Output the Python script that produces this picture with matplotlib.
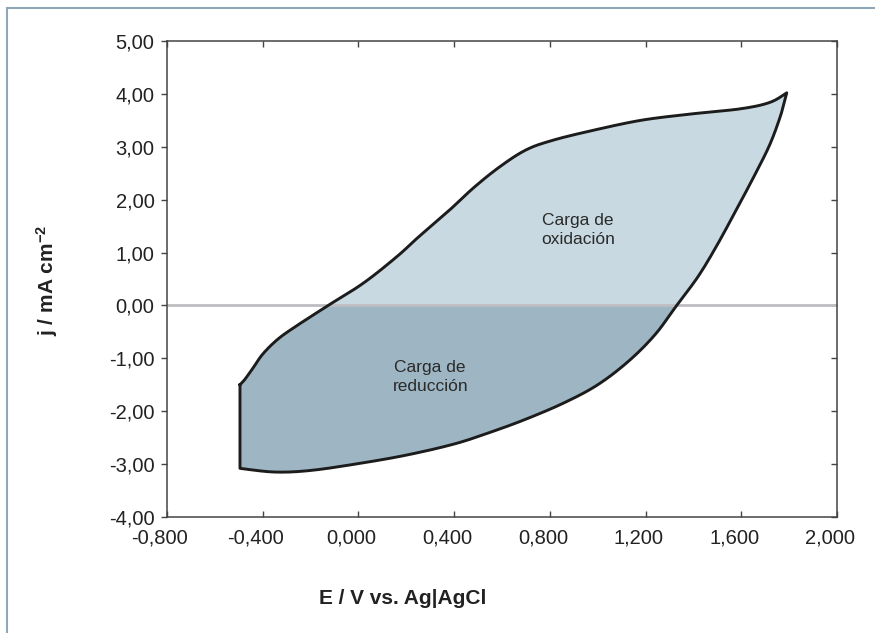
import numpy as np
import matplotlib
matplotlib.use("Agg")
import matplotlib.pyplot as plt
import matplotlib.transforms as mtransforms
from matplotlib.patches import Polygon, Rectangle
from matplotlib.lines import Line2D

plt.rcParams['font.family'] = ['Liberation Sans', 'DejaVu Sans']
plt.rcParams['mathtext.default'] = 'regular'

# forward (anodic) branch, from -0.5 V up to the vertex
fwd_E = [-0.495, -0.475, -0.44, -0.40, -0.34, -0.27, -0.13, 0.02, 0.16, 0.25,
         0.38, 0.48, 0.59, 0.70, 0.81, 0.97, 1.18, 1.39, 1.60, 1.72, 1.79]
fwd_j = [-1.50, -1.40, -1.18, -0.92, -0.65, -0.42, -0.01, 0.42, 0.92, 1.29,
         1.80, 2.22, 2.62, 2.94, 3.12, 3.30, 3.50, 3.62, 3.72, 3.84, 4.02]
# reverse (cathodic) branch, from the vertex back to -0.5 V
rev_E = [1.79, 1.765, 1.72, 1.66, 1.59, 1.50, 1.42, 1.33, 1.24, 1.13,
         1.00, 0.86, 0.70, 0.55, 0.40, 0.20, 0.00, -0.20, -0.35, -0.495]
rev_j = [4.02, 3.60, 3.05, 2.50, 1.90, 1.15, 0.55, 0.00, -0.55, -1.05,
         -1.50, -1.84, -2.15, -2.40, -2.62, -2.83, -2.99, -3.12, -3.15, -3.08]

x_ticks = [-0.8, -0.4, 0.0, 0.4, 0.8, 1.2, 1.6, 2.0]
x_ticklabels = ['-0,800', '-0,400', '0,000', '0,400', '0,800', '1,200', '1,600', '2,000']
y_ticks = [-4, -3, -2, -1, 0, 1, 2, 3, 4, 5]
y_ticklabels = ['-4,00', '-3,00', '-2,00', '-1,00', '0,00', '1,00', '2,00', '3,00', '4,00', '5,00']

light = '#c8d9e1'
dark = '#9eb6c3'
ink = '#1c1c1c'


def smooth(xs, ys, n=12):
    # catmull-rom through the read points, just to draw a smooth trace
    p = np.column_stack([xs, ys])
    p = np.vstack([p[0], p, p[-1]])
    out = []
    for i in range(1, len(p) - 2):
        p0, p1, p2, p3 = p[i - 1], p[i], p[i + 1], p[i + 2]
        for t in np.linspace(0, 1, n, endpoint=False):
            out.append(0.5 * (2 * p1 + (-p0 + p2) * t
                              + (2 * p0 - 5 * p1 + 4 * p2 - p3) * t ** 2
                              + (-p0 + 3 * p1 - 3 * p2 + p3) * t ** 3))
    out.append(p[-2])
    return np.array(out)


fig = plt.figure(figsize=(8.75, 6.33), dpi=100)
ax = fig.add_axes([167/875, 1 - 517/633, 670/875, 476/633])

up = smooth(fwd_E, fwd_j)
down = smooth(rev_E, rev_j)
loop = np.vstack([up, down[1:]])

# oxidation charge (above zero) and reduction charge (below zero)
for col, y0, h in [(light, 0, 10), (dark, -10, 10)]:
    p = Polygon(loop, closed=True, facecolor=col, edgecolor='none', zorder=1)
    ax.add_patch(p)
    clip = Rectangle((-2, y0), 6, h, transform=ax.transData)
    p.set_clip_path(clip)

ax.axhline(0, color='#bdbdc2', lw=2, zorder=2)
ax.plot(np.append(loop[:, 0], loop[0, 0]), np.append(loop[:, 1], loop[0, 1]),
        color=ink, lw=2.1, zorder=3, solid_joinstyle='round')

ax.text(0.918, 1.43, 'Carga de\noxidación', ha='center', va='center',
        fontsize=12.5, color='#2a2a2a', linespacing=1.3)
ax.text(0.30, -1.35, 'Carga de\nreducción', ha='center', va='center',
        fontsize=12.5, color='#2a2a2a', linespacing=1.3)

ax.set_xlim(-0.8, 2.0)
ax.set_ylim(-4, 5)
ax.set_xticks(x_ticks)
ax.set_xticklabels(x_ticklabels)
ax.set_yticks(y_ticks)
ax.set_yticklabels(y_ticklabels)
ax.tick_params(axis='x', direction='in', top=True, length=4, width=1,
               color='#444444', labelsize=14.5, pad=8, labelcolor='#222222')
ax.tick_params(axis='y', direction='out', right=True, length=4, width=1,
               color='#444444', labelsize=14.5, pad=5, labelcolor='#222222')
for t in ax.yaxis.get_major_ticks():
    t.tick2line.set_marker(0)  # right-hand ticks point inward
shift = mtransforms.ScaledTranslation(-7/100, 0, fig.dpi_scale_trans)
for lab in ax.get_xticklabels():
    lab.set_transform(lab.get_transform() + shift)
for s in ax.spines.values():
    s.set_color('#444444')
    s.set_linewidth(1.1)

fig.text(403/875, 1 - 598/633, 'E / V vs. Ag|AgCl', ha='center', va='center',
         fontsize=15, fontweight='bold', color='#222222')
fig.text(47/875, 1 - 280/633, 'j / mA cm$^{-2}$', ha='center', va='center',
         rotation=90, fontsize=15, fontweight='bold', color='#222222')

# outer frame (top and left edges only)
frame = '#8fa8b7'
fig.add_artist(Line2D([7/875, 1.0], [1 - 8/633, 1 - 8/633], color=frame, lw=1.5))
fig.add_artist(Line2D([7/875, 7/875], [0, 1 - 8/633], color=frame, lw=1.5))

fig.savefig('out.png', dpi=100)
